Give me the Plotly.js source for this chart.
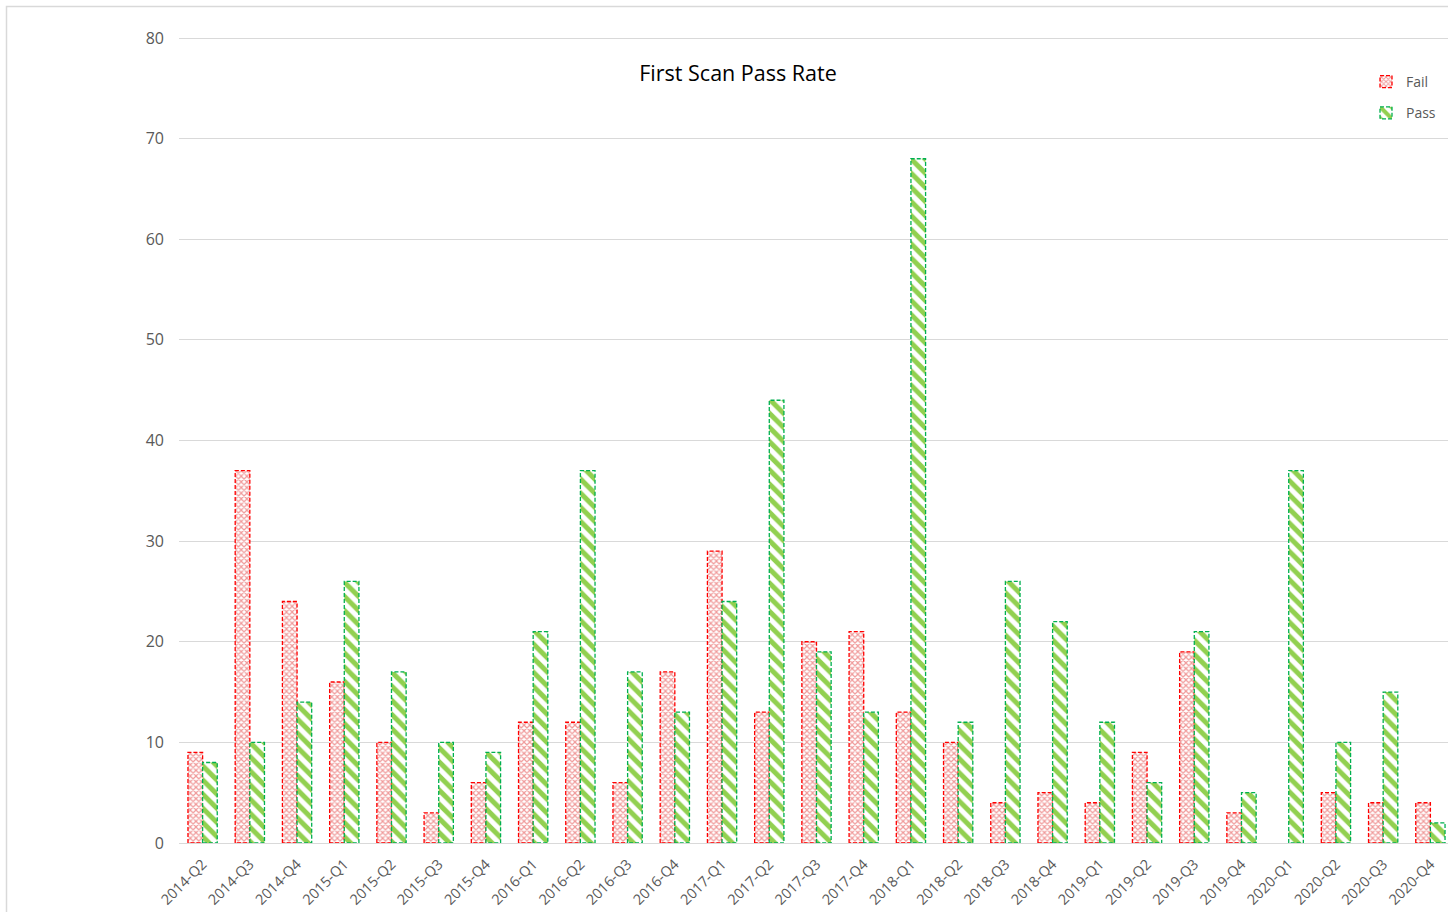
<!DOCTYPE html>
<html>
<head>
<meta charset="utf-8">
<script src="https://cdn.plot.ly/plotly-3.0.1.min.js"></script>
<style>
  html, body { margin: 0; padding: 0; background: #fff; overflow: hidden; }
  #chart { width: 1470px; height: 912px; }
  #chart .trace.bars .point path, #chart .legendpoints path { stroke-dasharray: 4 2 !important; }
</style>
</head>
<body>
<div id="chart"></div>
<script>
const quarters = ["2014-Q2","2014-Q3","2014-Q4","2015-Q1","2015-Q2","2015-Q3","2015-Q4",
  "2016-Q1","2016-Q2","2016-Q3","2016-Q4","2017-Q1","2017-Q2","2017-Q3","2017-Q4",
  "2018-Q1","2018-Q2","2018-Q3","2018-Q4","2019-Q1","2019-Q2","2019-Q3","2019-Q4",
  "2020-Q1","2020-Q2","2020-Q3","2020-Q4"];
const failValues = [9,37,24,16,10,3,6,12,12,6,17,29,13,20,21,13,10,4,5,4,9,19,3,0,5,4,4];
const passValues = [8,10,14,26,17,10,9,21,37,17,13,24,44,19,13,68,12,26,22,12,6,21,5,37,10,15,2];
const yTicks = [0,10,20,30,40,50,60,70,80];

const W = 1470, H = 912;
const yMax = 80.3;
const L = 179, R = W - 1454, B = H - 843;
const T = Math.round(843 - 805 * yMax / 80);
const pw = W - L - R, ph = H - T - B;
const px2x = p => (p - L) / pw;
const px2y = p => (H - B - p) / ph;

const fontFam = "Open Sans, Lato, sans-serif";
// zero-height bars are not drawn in the reference
const noZero = arr => arr.map(v => (v === 0 ? null : v));

const traces = [
  {
    type: "bar", name: "Fail", x: quarters, y: noZero(failValues), legendgroup: "f",
    marker: {
      color: "#ffffff",
      line: { color: "#ff0000", width: 1.3 },
      pattern: { shape: "x", fgcolor: "#f09a9a", bgcolor: "#ffffff", size: 4, solidity: 0.5 }
    },
    hoverinfo: "x+y+name"
  },
  {
    type: "bar", name: "Pass", x: quarters, y: noZero(passValues), legendgroup: "p",
    marker: {
      color: "#ffffff",
      line: { color: "#00b050", width: 1.3 },
      pattern: { shape: "\\", fgcolor: "#92d050", bgcolor: "#ffffff", size: 10, solidity: 0.5 }
    },
    hoverinfo: "x+y+name"
  }
];

const layout = {
  width: W, height: H,
  margin: { l: L, r: R, t: T, b: B, pad: 0 },
  paper_bgcolor: "#ffffff", plot_bgcolor: "#ffffff",
  font: { family: fontFam, color: "#595959", size: 14 },
  barmode: "group", bargap: 0.38, bargroupgap: 0,
  title: {
    text: "First Scan Pass Rate",
    font: { family: fontFam, size: 21.5, color: "#000000" },
    xref: "container", x: 738 / W, xanchor: "center",
    yref: "container", y: 1 - 73 / H, yanchor: "middle"
  },
  xaxis: {
    type: "category", tickangle: -45,
    tickfont: { size: 14.5, color: "#595959" },
    showgrid: false, showline: true, linecolor: "#d9d9d9", linewidth: 1,
    ticks: "", ticklabelstandoff: 6, fixedrange: true
  },
  yaxis: {
    range: [0, yMax], tickvals: yTicks, ticktext: yTicks.map(String),
    tickfont: { size: 16, color: "#595959" },
    showgrid: true, gridcolor: "#d9d9d9", gridwidth: 1,
    zeroline: false, showline: false, ticks: "", ticklabelstandoff: 14, fixedrange: true
  },
  legend: {
    xref: "paper", yref: "paper",
    x: px2x(1366), y: px2y(66), xanchor: "left", yanchor: "top",
    font: { size: 14, color: "#595959" },
    traceorder: "grouped", tracegroupgap: 10,
    bgcolor: "rgba(0,0,0,0)", itemwidth: 30
  },
  shapes: [{
    type: "rect", xref: "paper", yref: "paper",
    x0: px2x(6.5), x1: px2x(1600), y0: px2y(6.5), y1: px2y(1100),
    line: { color: "#d9d9d9", width: 1.5 }, fillcolor: "rgba(0,0,0,0)", layer: "below"
  }]
};

Plotly.newPlot("chart", traces, layout, { displayModeBar: false, staticPlot: true });
</script>
</body>
</html>
